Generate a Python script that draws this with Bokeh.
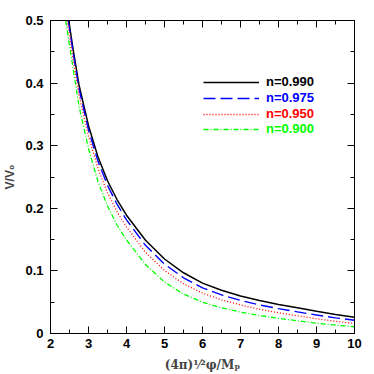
from bokeh.plotting import figure
from bokeh.models import (Range1d, LinearAxis, SingleIntervalTicker, PrintfTickFormatter,
                          CustomJSTickFormatter, Legend, LegendItem)
from bokeh.embed import file_html
from bokeh.resources import INLINE

# ---- data ----
x_black = [2.48, 2.6, 2.75, 3.0, 3.25, 3.5, 3.75, 4.0, 4.5, 5.0, 5.5, 6.0, 6.5, 7.0, 7.5, 8.0, 8.5, 9.0, 9.5, 10.0]
y_black = [0.500, 0.452, 0.397, 0.332, 0.282, 0.244, 0.214, 0.189, 0.149, 0.119, 0.097, 0.0805,
           0.069, 0.060, 0.0527, 0.0465, 0.041, 0.0355, 0.0305, 0.026]

x_blue = [2.47, 2.6, 2.75, 3.0, 3.25, 3.5, 3.75, 4.0, 4.5, 5.0, 5.5, 6.0, 6.5, 7.0, 7.5, 8.0, 8.5, 9.0, 9.5, 10.0]
y_blue = [0.500, 0.4466, 0.391, 0.3254, 0.275, 0.2367, 0.2065, 0.1814, 0.1408, 0.1107, 0.089, 0.0729,
          0.0616, 0.0528, 0.0457, 0.0398, 0.0346, 0.0295, 0.025, 0.0211]

x_red = [2.44, 2.6, 2.75, 3.0, 3.25, 3.5, 3.75, 4.0, 4.5, 5.0, 5.5, 6.0, 6.5, 7.0, 7.5, 8.0, 8.5, 9.0, 9.5, 10.0]
y_red = [0.500, 0.436, 0.381, 0.3154, 0.2637, 0.2245, 0.1947, 0.1701, 0.1296, 0.1006, 0.0795, 0.0644,
         0.0538, 0.0456, 0.0387, 0.0332, 0.0283, 0.0236, 0.0195, 0.016]

x_green = [2.40, 2.5, 2.75, 3.0, 3.25, 3.5, 3.75, 4.0, 4.5, 5.0, 5.5, 6.0, 6.5, 7.0, 7.5, 8.0, 8.5, 9.0, 9.5, 10.0]
y_green = [0.500, 0.460, 0.3633, 0.2955, 0.2425, 0.2037, 0.1733, 0.1493, 0.1103, 0.0821, 0.0631, 0.0499,
           0.0411, 0.0342, 0.0287, 0.0242, 0.0203, 0.0165, 0.0134, 0.0108]

labels = ["n=0.990", "n=0.975", "n=0.950", "n=0.900"]
colors = ["#000000", "#0000ff", "#ff0000", "#00ff00"]

FONT = "Liberation Sans"

p = figure(width=374, height=374, output_backend="svg", toolbar_location=None,
           x_range=Range1d(2, 10), y_range=Range1d(0, 0.5),
           min_border_left=50, min_border_right=20, min_border_top=20, min_border_bottom=40)
p.grid.visible = False
p.outline_line_color = "black"
p.outline_line_width = 1
p.background_fill_color = "white"
p.border_fill_color = "white"

r1 = p.line(x_black, y_black, line_color=colors[0], line_width=1.5)
r2 = p.line(x_blue, y_blue, line_color=colors[1], line_width=1.4, line_dash="12 5")
r3 = p.line(x_red, y_red, line_color=colors[2], line_width=1.3, line_dash="1 2")
r4 = p.line(x_green, y_green, line_color=colors[3], line_width=1.3, line_dash="5 2 1 2")

def style(ax, show_labels):
    ax.major_tick_in = 7
    ax.major_tick_out = 0
    ax.minor_tick_in = 4
    ax.minor_tick_out = 0
    ax.axis_line_color = "black"
    ax.major_tick_line_color = "black"
    ax.minor_tick_line_color = "black"
    if show_labels:
        ax.major_label_text_font = FONT
        ax.major_label_text_font_style = "bold"
        ax.major_label_text_font_size = "13px"
        ax.major_label_text_color = "black"
    else:
        ax.formatter = CustomJSTickFormatter(code="return '';")
        ax.major_label_standoff = 0

xa = p.xaxis[0]
xa.ticker = SingleIntervalTicker(interval=1, num_minor_ticks=2)
style(xa, True)
xa.major_label_standoff = 5
xa.axis_label = "(4π)¹⁄²φ/Mₚ"
xa.axis_label_text_font = "DejaVu Serif"
xa.axis_label_text_font_style = "bold"
xa.axis_label_text_font_size = "12px"
xa.axis_label_standoff = 7

ya = p.yaxis[0]
ya.ticker = SingleIntervalTicker(interval=0.1, num_minor_ticks=2)
style(ya, True)
ya.major_label_standoff = 7
ya.formatter = PrintfTickFormatter(format="%.1f")
ya.major_label_overrides = {0: "0"}
ya.axis_label = "V/V₀"
ya.axis_label_text_font = FONT
ya.axis_label_text_font_style = "bold"
ya.axis_label_text_font_size = "12px"
ya.axis_label_standoff = 5

ra = LinearAxis(ticker=SingleIntervalTicker(interval=0.1, num_minor_ticks=2))
style(ra, False)
p.add_layout(ra, "right")
ta = LinearAxis(ticker=SingleIntervalTicker(interval=1, num_minor_ticks=2))
style(ta, False)
p.add_layout(ta, "above")

bottoms = [244, 228, 212, 197]
for r, lab, c, b in zip([r1, r2, r3, r4], labels, colors, bottoms):
    leg = Legend(items=[LegendItem(label=lab, renderers=[r])], location=(153, b),
                 padding=0, margin=0, spacing=0,
                 glyph_width=56, glyph_height=14, label_height=14, label_standoff=7,
                 label_text_font=FONT, label_text_font_style="bold",
                 label_text_font_size="13px", label_text_color=c,
                 background_fill_alpha=0, border_line_alpha=0)
    p.add_layout(leg)

open("out.html", "w").write(file_html(p, INLINE))
